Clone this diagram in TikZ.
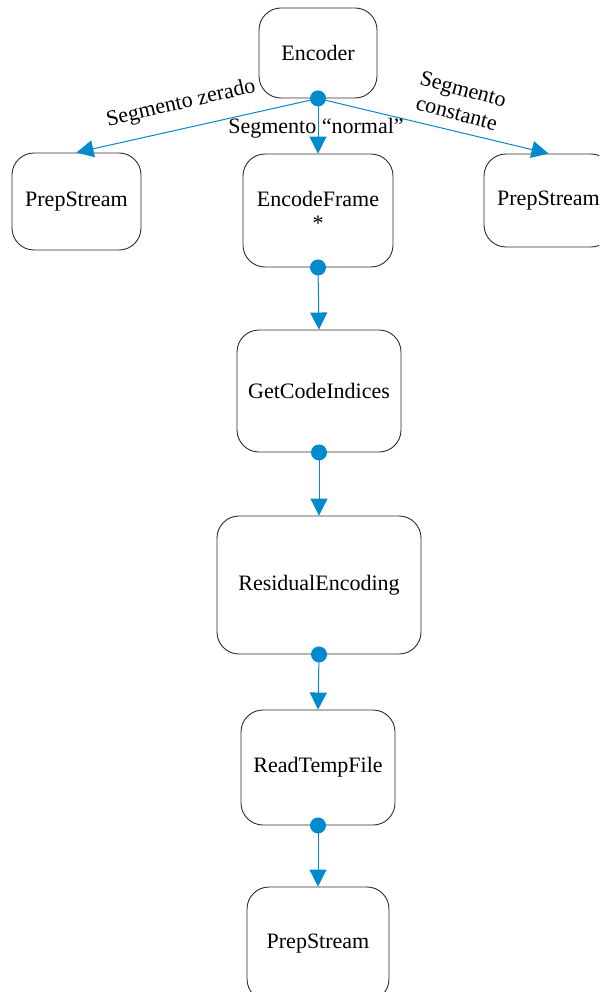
\documentclass[tikz,border=0pt]{standalone}
\usepackage{fontspec}
\setmainfont{Liberation Serif}
\usetikzlibrary{arrows.meta}
\definecolor{flowblue}{RGB}{0,138,206}
\definecolor{boxline}{RGB}{45,45,45}
\tikzset{
  proc/.style={draw=boxline, line width=0.9pt, rounded corners=22pt, inner sep=0pt,
    align=center, font=\fontsize{22}{24}\selectfont},
  flow/.style={draw=flowblue, line width=1pt, -{Triangle[width=17pt,length=17pt]}},
  lbl/.style={font=\fontsize{22}{25}\selectfont, align=center, inner sep=0pt},
  port/.style={fill=flowblue}
}
\begin{document}
\begin{tikzpicture}[x=1pt,y=-1pt]
\useasboundingbox (0,0) rectangle (599,992);
\clip (0,0) rectangle (599,992);
\node[proc, minimum width=118pt, minimum height=90pt] (enc) at (318,53) {Encoder};
\node[proc, minimum width=129pt, minimum height=97pt] (psl) at (76.5,201.5) {PrepStream};
\node[proc, minimum width=150pt, minimum height=113pt] (ef) at (318,210.5) {EncodeFrame\\*};
\node[proc, minimum width=129pt, minimum height=93pt] (psr) at (548.5,200.5) {PrepStream};
\node[proc, minimum width=164pt, minimum height=122pt] (gci) at (319,391) {GetCodeIndices};
\node[proc, minimum width=204pt, minimum height=138pt] (re) at (319,585) {ResidualEncoding};
\node[proc, minimum width=154pt, minimum height=115pt] (rtf) at (318,767.5) {ReadTempFile};
\node[proc, minimum width=142pt, minimum height=114pt] (psb) at (318,944) {PrepStream};

\draw[flow] (enc.south) -- (psl.north);
\draw[flow] (enc.south) -- (ef.north);
\draw[flow] (enc.south) -- (psr.north);
\draw[flow] (ef.south) -- (gci.north);
\draw[flow] (gci.south) -- (re.north);
\draw[flow] (re.south) -- (rtf.north);
\draw[flow] (rtf.south) -- (psb.north);

\foreach \n in {enc,ef,gci,re,rtf}
  \fill[port] (\n.south) circle (8pt);

\node[lbl, rotate=13] (lz) at (181,104) {Segmento zerado};
\node[lbl] (ln) at (316,128) {Segmento \textquotedblleft normal\textquotedblright};
\node[lbl, rotate=-15] (lc) at (460,101) {Segmento\\constante};
\end{tikzpicture}
\end{document}
